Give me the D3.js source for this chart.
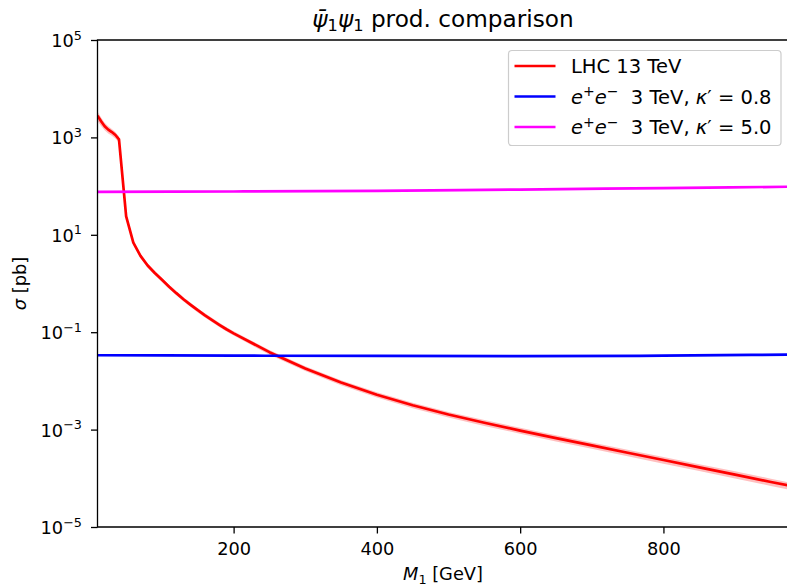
<!DOCTYPE html>
<html>
<head>
  <title>psi1 production comparison</title>
  <script src="https://cdn.jsdelivr.net/npm/d3@7"></script>
</head>
<style>
  body { margin: 0; background: white; }
  text { font-family: "DejaVu Sans", sans-serif; fill: black; }
  .it { font-style: italic; }
</style>
<body>
<svg width="787" height="587" id="chart"></svg>
<script>

// mass points [GeV]
let massLHC = [10, 15, 20, 25, 30, 35, 40, 50, 60, 70, 80, 90, 100, 110, 120, 130, 140, 150,
  160, 170, 180, 190, 200, 250, 300, 350, 400, 450, 500, 550, 600, 650, 700, 750, 800,
  850, 900, 950, 975];
// LHC 13 TeV cross section [pb]
let sigmaLHC = [2800, 2140, 1700, 1445, 1290, 1120, 912, 24, 6.9, 3.7, 2.34, 1.64, 1.19, 0.857,
  0.634, 0.476, 0.365, 0.283, 0.222, 0.177, 0.142, 0.115, 0.0946, 0.0389, 0.0180, 0.00923,
  0.00519, 0.00316, 0.00204, 0.00138, 0.000955, 0.000668, 0.000473, 0.000335, 0.000237,
  0.000168, 0.000119, 0.0000841, 0.0000708];
// relative uncertainty of the LHC band
let errLHC = [0.22, 0.2, 0.18, 0.17, 0.16, 0.15, 0.15, 0.12, 0.11, 0.1, 0.1, 0.1, 0.1, 0.1,
  0.1, 0.1, 0.1, 0.1, 0.1, 0.1, 0.1, 0.1, 0.1, 0.11, 0.11, 0.12, 0.12, 0.13, 0.13, 0.14,
  0.14, 0.15, 0.15, 0.15, 0.16, 0.16, 0.17, 0.17, 0.17];

let massEE = [10, 200, 400, 600, 800, 975];
let sigmaEE08 = [0.0336, 0.0330, 0.0325, 0.0323, 0.0330, 0.0347];
let sigmaEE50 = [76, 77.5, 80, 85, 91, 97];

let yTicks = [-5, -3, -1, 1, 3, 5];
let xTicks = [200, 400, 600, 800];

let legendItems = [
  {color: "#ff0000", parts: [["LHC 13 TeV", ""]]},
  {color: "#0000ff", parts: [["e", "it"], ["+", "sup"], ["e", "it"], ["\u2212", "sup"], ["  3 TeV, ", ""], ["\u03ba", "it"], ["\u2032", ""], [" = 0.8", ""]]},
  {color: "#ff00ff", parts: [["e", "it"], ["+", "sup"], ["e", "it"], ["\u2212", "sup"], ["  3 TeV, ", ""], ["\u03ba", "it"], ["\u2032", ""], [" = 5.0", ""]]}
];

let pLeft = 97.5, pRight = 788.8, pTop = 40, pBottom = 527;

let svg = d3.select("#chart");

let x = d3.scaleLinear().domain([10, 975]).range([pLeft, pRight]);
let y = d3.scaleLog().domain([1e-5, 1e5]).range([pBottom, pTop]);

svg.append("clipPath").attr("id", "clip")
  .append("rect").attr("x", pLeft).attr("y", pTop)
  .attr("width", pRight - pLeft).attr("height", pBottom - pTop);

let plot = svg.append("g").attr("clip-path", "url(#clip)");

// uncertainty band
let lhc = massLHC.map(function(m, i) {
  return {m: m, v: sigmaLHC[i], lo: sigmaLHC[i] * (1 - errLHC[i]), hi: sigmaLHC[i] * (1 + errLHC[i])};
});

plot.append("path").datum(lhc)
  .attr("d", d3.area().x(d => x(d.m)).y0(d => y(d.lo)).y1(d => y(d.hi)))
  .attr("fill", "#ff0000").attr("fill-opacity", 0.25);

let line = d3.line().x(d => x(d[0])).y(d => y(d[1]));

function drawLine(ms, vs, color) {
  plot.append("path")
    .datum(ms.map((m, i) => [m, vs[i]]))
    .attr("d", line.curve(d3.curveMonotoneX))
    .attr("fill", "none").attr("stroke", color).attr("stroke-width", 2.7);
}

// LHC drawn with straight segments
plot.append("path")
  .datum(massLHC.map((m, i) => [m, sigmaLHC[i]]))
  .attr("d", d3.line().x(d => x(d[0])).y(d => y(d[1])))
  .attr("fill", "none").attr("stroke", "#ff0000").attr("stroke-width", 2.7)
  .attr("stroke-linejoin", "round");

drawLine(massEE, sigmaEE08, "#0000ff");
drawLine(massEE, sigmaEE50, "#ff00ff");

// axes
let xAxis = d3.axisBottom(x).tickValues(xTicks).tickSize(6.5).tickPadding(5).tickFormat(d3.format("d"));
let gx = svg.append("g").attr("transform", "translate(0," + pBottom + ")").call(xAxis);
gx.select(".domain").remove();
gx.selectAll("line").attr("stroke-width", 1.3);
gx.selectAll("text").attr("font-size", 17.8).attr("font-family", "DejaVu Sans").attr("dy", "0.95em");

let yAxis = d3.axisLeft(y).tickValues(yTicks.map(k => Math.pow(10, k))).tickSize(6.5).tickFormat("");
let gy = svg.append("g").attr("transform", "translate(" + pLeft + ",0)").call(yAxis);
gy.select(".domain").remove();
gy.selectAll("line").attr("stroke-width", 1.3);

gy.selectAll(".tick").each(function(d) {
  let k = Math.round(Math.log10(d));
  let t = d3.select(this).append("text")
    .attr("x", -15.5).attr("y", 6.5)
    .attr("text-anchor", "end").attr("font-size", 17.8);
  t.append("tspan").text("10");
  t.append("tspan").attr("dy", -7.5).attr("font-size", 12.8)
    .text(k < 0 ? "\u2212" + (-k) : "" + k);
});

// spines: left, top, bottom
svg.append("path")
  .attr("d", "M" + pRight + "," + pTop + "H" + pLeft + "V" + pBottom + "H" + pRight)
  .attr("fill", "none").attr("stroke", "black").attr("stroke-width", 1.3);

// title
let title = svg.append("text").attr("x", 443).attr("y", 26.5)
  .attr("text-anchor", "middle").attr("font-size", 23.2);
title.append("tspan").attr("class", "it").text("\u03c8\u0304");
title.append("tspan").attr("dy", 4.5).attr("font-size", 16.2).text("1");
title.append("tspan").attr("class", "it").attr("dy", -4.5).text("\u03c8");
title.append("tspan").attr("dy", 4.5).attr("font-size", 16.2).text("1");
title.append("tspan").attr("dy", -4.5).text(" prod. comparison");

// axis labels
let xl = svg.append("text").attr("x", 443).attr("y", 580)
  .attr("text-anchor", "middle").attr("font-size", 17.8);
xl.append("tspan").attr("class", "it").text("M");
xl.append("tspan").attr("dy", 4).attr("font-size", 12.8).text("1");
xl.append("tspan").attr("dy", -4).text(" [GeV]");

let yl = svg.append("text")
  .attr("transform", "translate(25.5," + (pTop + pBottom) / 2 + ") rotate(-90)")
  .attr("text-anchor", "middle").attr("font-size", 17.8);
yl.append("tspan").attr("class", "it").text("\u03c3");
yl.append("tspan").text(" [pb]");

// legend
let legend = svg.append("g");
legend.append("rect").attr("x", 508.5).attr("y", 50.5).attr("width", 272.5).attr("height", 95)
  .attr("rx", 3.5).attr("fill", "white").attr("fill-opacity", 0.8)
  .attr("stroke", "#cccccc").attr("stroke-width", 1.2);

legendItems.forEach(function(item, i) {
  let ly = 66 + i * 30.5;
  legend.append("line").attr("x1", 514.5).attr("x2", 555.5).attr("y1", ly).attr("y2", ly)
    .attr("stroke", item.color).attr("stroke-width", 2.7);
  let t = legend.append("text").attr("x", 571).attr("y", ly + 7).attr("font-size", 19.5)
    .attr("xml:space", "preserve");
  let raised = false;
  item.parts.forEach(function(p) {
    let s = t.append("tspan").text(p[0]);
    if (p[1] === "it") s.attr("class", "it");
    if (p[1] === "sup") {
      s.attr("font-size", 14).attr("dy", raised ? 0 : -7.5);
      raised = true;
    } else if (raised) {
      s.attr("dy", 7.5);
      raised = false;
    }
  });
});

</script>
</body>
</html>
